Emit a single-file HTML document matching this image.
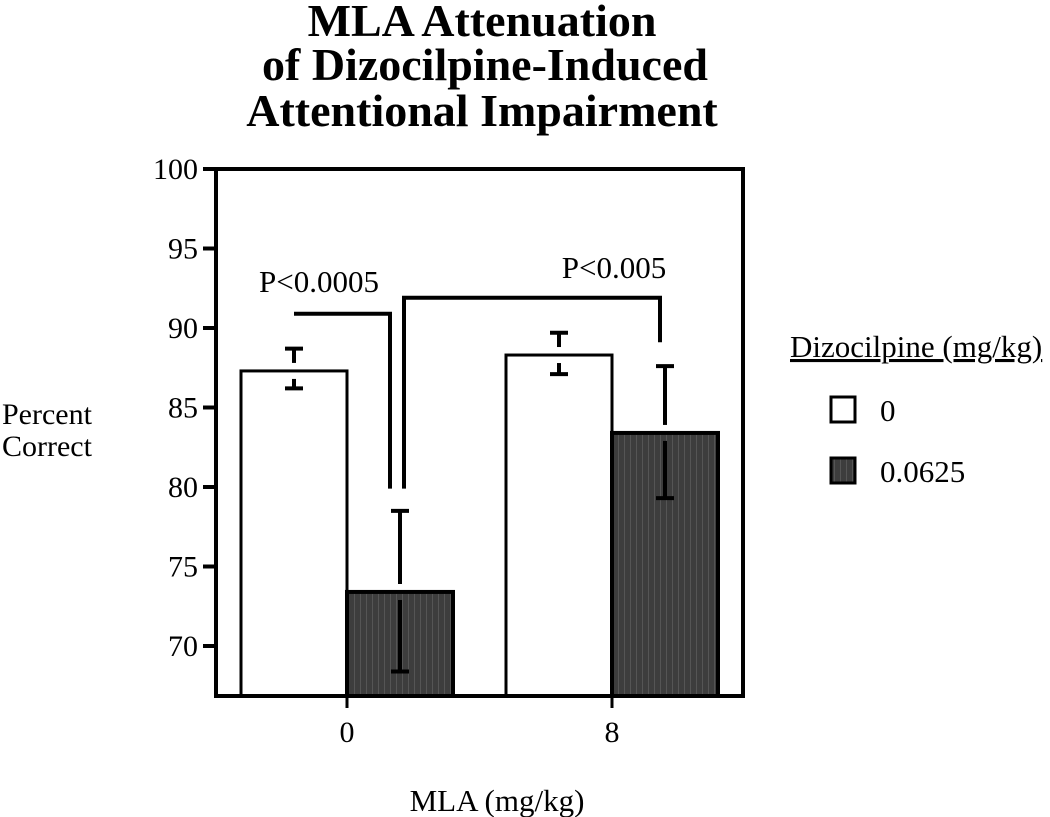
<!DOCTYPE html>
<html><head><meta charset="utf-8"><style>
body{margin:0;background:#fff;}
svg{display:block;font-family:"Liberation Serif",serif;}
</style></head><body>
<svg width="1050" height="817" viewBox="0 0 1050 817">
<defs><pattern id="stripe" width="6" height="4" patternUnits="userSpaceOnUse"><rect width="6" height="4" fill="#3d3d3d"/><rect width="1" height="4" fill="#555"/></pattern></defs>
<g font-weight="bold" font-size="46" text-anchor="middle">
<text x="482" y="36">MLA Attenuation</text>
<text x="485" y="80">of Dizocilpine-Induced</text>
<text x="482" y="126">Attentional Impairment</text>
</g>
<g id="yaxis"></g>
<g id="bars"></g>
<rect x="216" y="169" width="527" height="527" fill="none" stroke="#000" stroke-width="4"/>
<g id="brackets" stroke="#000" stroke-width="4" fill="none"></g>
<text x="319" y="292" font-size="31" text-anchor="middle">P&lt;0.0005</text>
<text x="614" y="278" font-size="31" text-anchor="middle">P&lt;0.005</text>
<g id="xaxis"></g>
<text x="2" y="424" font-size="30"><tspan x="2">Percent</tspan><tspan x="2" dy="32">Correct</tspan></text>
<text x="497" y="811" font-size="31" text-anchor="middle">MLA (mg/kg)</text>
<g font-size="31">
<text x="790" y="357" text-decoration="underline">Dizocilpine (mg/kg)</text>
<g><rect x="831" y="397" width="24" height="25" fill="#fff" stroke="#000" stroke-width="3"/><text x="880" y="421">0</text></g>
<g><rect x="831" y="458" width="24" height="25" fill="url(#stripe)" stroke="#000" stroke-width="3"/><text x="880" y="482">0.0625</text></g>
</g>
</svg>
<script>
const categories=["0","8"];
const seriesNames=["0","0.0625"];
const means0=[87.3,88.3];
const means1=[73.4,83.4];
const errUp0=[88.7,89.7];
const errLo0=[86.2,87.1];
const errUp1=[78.5,87.6];
const errLo1=[68.4,79.3];
const yTicks=[70,75,80,85,90,95,100];
const NS="http://www.w3.org/2000/svg";
const y=v=>169+(100-v)*15.9;
const yBase=696;
const groupCenter=i=>347+i*265;
const barW=106;
function mk(tag,attrs,parent){const e=document.createElementNS(NS,tag);for(const k in attrs)e.setAttribute(k,attrs[k]);parent.appendChild(e);return e;}
const yaxis=document.getElementById('yaxis');
yTicks.forEach(t=>{
 const l=mk('line',{x1:203,x2:216,y1:y(t),y2:y(t),stroke:'#000','stroke-width':4},yaxis);
 
 
 const tx=mk('text',{x:198,y:y(t)+10,'font-size':30,'text-anchor':'end'},yaxis);
 tx.textContent=t;
 
 
});
const xaxis=document.getElementById('xaxis');
categories.forEach((c,i)=>{
 const cx=groupCenter(i);
 const l=mk('line',{x1:cx,x2:cx,y1:696,y2:708,stroke:'#000','stroke-width':3},xaxis);
 
 
 const tx=mk('text',{x:cx,y:742,'font-size':30,'text-anchor':'middle'},xaxis);
 tx.textContent=c;
 
 
});
const bars=document.getElementById('bars');
function errBar(x,m,up,lo){
 const g=mk('g',{stroke:'#000','stroke-width':4},bars);
 
 
 mk('line',{x1:x,x2:x,y1:y(up),y2:y(m)-8},g);
 mk('line',{x1:x-9,x2:x+9,y1:y(up),y2:y(up)},g);
 mk('line',{x1:x,x2:x,y1:y(m)+8,y2:y(lo)},g);
 mk('line',{x1:x-9,x2:x+9,y1:y(lo),y2:y(lo)},g);
}
categories.forEach((c,i)=>{
 const cx=groupCenter(i);
 const r0=mk('rect',{x:cx-barW,y:y(means0[i]),width:barW,height:yBase-y(means0[i]),fill:'#fff',stroke:'#000','stroke-width':3},bars);
 
 
 const r1=mk('rect',{x:cx,y:y(means1[i]),width:barW,height:yBase-y(means1[i]),fill:'url(#stripe)',stroke:'#000','stroke-width':4},bars);
 
 
 errBar(cx-barW/2,means0[i],errUp0[i],errLo0[i]);
 errBar(cx+barW/2,means1[i],errUp1[i],errLo1[i]);
});
const br=document.getElementById('brackets');
const p1=mk('polyline',{points:`294,${y(90.9)} 390,${y(90.9)} 390,${y(79.9)}`},br);


const p2=mk('polyline',{points:`404,${y(79.9)} 404,${y(91.9)} 660,${y(91.9)} 660,${y(89.1)}`},br);


</script>
</body></html>
